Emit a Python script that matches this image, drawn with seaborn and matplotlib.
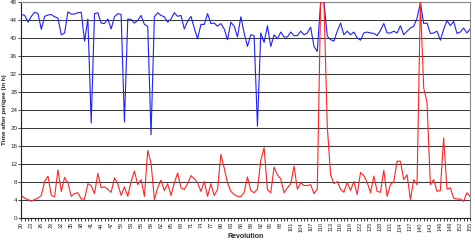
import numpy as np
import pandas as pd
import matplotlib
matplotlib.use("Agg")
import matplotlib.pyplot as plt
import seaborn as sns

# revolutions 20..155
revolution = list(range(20, 156))

# blue series (time after perigee, hours)
blue_vals = [
    45.2, 45.0, 43.5, 44.8, 45.7, 45.4, 41.9, 44.8, 45.1, 45.2,
    44.7, 44.4, 40.7, 41.1, 45.8, 45.3, 45.3, 45.6, 45.7, 39.3,
    44.2, 21.1, 45.4, 45.6, 43.3, 43.2, 44.2, 42.0, 44.7, 45.4,
    45.2, 21.3, 44.2, 44.1, 43.3, 43.9, 45.0, 43.0, 42.6, 18.5,
    44.7, 45.6, 45.0, 44.7, 43.5, 44.2, 45.6, 44.8, 45.0, 42.0,
    43.7, 44.8, 42.2, 39.8, 43.0, 43.0, 45.4, 43.2, 43.3, 42.6,
    43.2, 42.0, 39.6, 43.5, 42.6, 40.2, 44.7, 41.1, 38.1, 40.7,
    40.5, 20.4, 41.1, 39.0, 42.7, 38.1, 40.7, 39.8, 41.3, 40.2,
    40.2, 41.3, 40.5, 40.5, 41.5, 40.7, 41.1, 42.4, 38.1, 37.0,
    48.0, 48.0, 40.4, 39.6, 39.3, 41.5, 43.3, 40.7, 41.5, 40.7,
    41.3, 40.0, 39.5, 41.1, 41.3, 41.1, 41.0, 40.5, 41.7, 43.2,
    41.1, 41.1, 41.5, 41.1, 42.7, 40.7, 41.5, 42.2, 42.6, 44.4,
    47.8, 43.2, 43.3, 41.0, 41.1, 41.5, 39.5, 41.9, 43.9, 42.7,
    43.7, 41.0, 41.3, 42.2, 41.1, 42.0,
]

# red series
red_vals = [
    5.0, 4.4, 4.1, 3.7, 4.1, 4.4, 5.0, 8.1, 9.3, 5.0,
    4.7, 10.7, 5.9, 9.0, 7.8, 4.8, 5.4, 5.6, 4.2, 4.2,
    7.6, 7.2, 5.4, 9.9, 6.7, 6.9, 6.4, 5.7, 8.9, 7.6,
    5.0, 6.9, 4.8, 8.1, 10.4, 7.4, 8.5, 4.8, 15.0, 12.2,
    4.1, 6.7, 8.4, 6.1, 7.6, 5.0, 7.8, 10.0, 6.7, 6.3,
    7.6, 9.4, 8.7, 7.8, 5.9, 8.1, 4.8, 7.6, 5.0, 6.3,
    14.1, 11.1, 7.8, 5.9, 5.2, 4.8, 4.7, 5.7, 9.1, 6.1,
    5.6, 6.4, 12.8, 15.6, 6.3, 5.6, 11.3, 9.6, 8.7, 5.6,
    6.7, 7.6, 11.5, 6.4, 7.8, 7.2, 7.2, 7.4, 5.4, 6.4,
    48.0, 48.0, 20.4, 9.6, 7.6, 8.1, 6.4, 5.7, 7.9, 6.1,
    8.1, 5.2, 10.1, 9.4, 7.9, 5.6, 9.3, 5.9, 5.7, 10.6,
    4.8, 7.4, 8.1, 12.6, 12.6, 8.5, 9.6, 4.1, 8.5, 7.4,
    48.0, 28.9, 25.6, 7.4, 8.5, 5.9, 6.1, 17.8, 6.4, 6.7,
    4.4, 4.2, 4.2, 3.7, 5.6, 4.7,
]

df = pd.DataFrame({
    "Revolution": revolution * 2,
    "value": blue_vals + red_vals,
    "series": ["blue"] * len(revolution) + ["red"] * len(revolution),
})

sns.set_style("white")
plt.rcParams['font.family'] = ['Liberation Sans', 'DejaVu Sans']

fig, ax = plt.subplots(figsize=(4.75, 2.4), dpi=100)
fig.subplots_adjust(left=0.045, right=0.99, top=0.992, bottom=0.092)

sns.lineplot(data=df, x="Revolution", y="value", hue="series",
             palette={"blue": "#2020ff", "red": "#ff2424"},
             linewidth=0.8, legend=False, ax=ax, zorder=3)

ax.set_xlim(20, 155)
ax.set_ylim(0, 48)
ax.set_yticks(np.arange(0, 49, 4))
ax.set_xticks(range(20, 156, 3))
ax.set_xticks(range(20, 156), minor=True)
ax.tick_params(axis="x", which="major", labelsize=4, rotation=90, length=2, width=0.6, pad=1)
ax.tick_params(axis="x", which="minor", length=2, width=0.6)
ax.tick_params(axis="y", labelsize=4.5, length=2, width=0.6, pad=1)
ax.tick_params(bottom=True, left=True, which="both")

ax.yaxis.grid(True, color="#3a3a3a", linewidth=0.75)
ax.set_axisbelow(True)

for side in ["top", "right"]:
    ax.spines[side].set_color("#888888")
    ax.spines[side].set_linewidth(0.8)
for side in ["left", "bottom"]:
    ax.spines[side].set_color("#222222")
    ax.spines[side].set_linewidth(0.8)

ax.set_xlabel("Revolution", fontsize=5, fontweight="bold", labelpad=1)
ax.set_ylabel("Time after perigee (in h)", fontsize=4.5, fontweight="bold", labelpad=2)

fig.savefig("out.png", dpi=100)
